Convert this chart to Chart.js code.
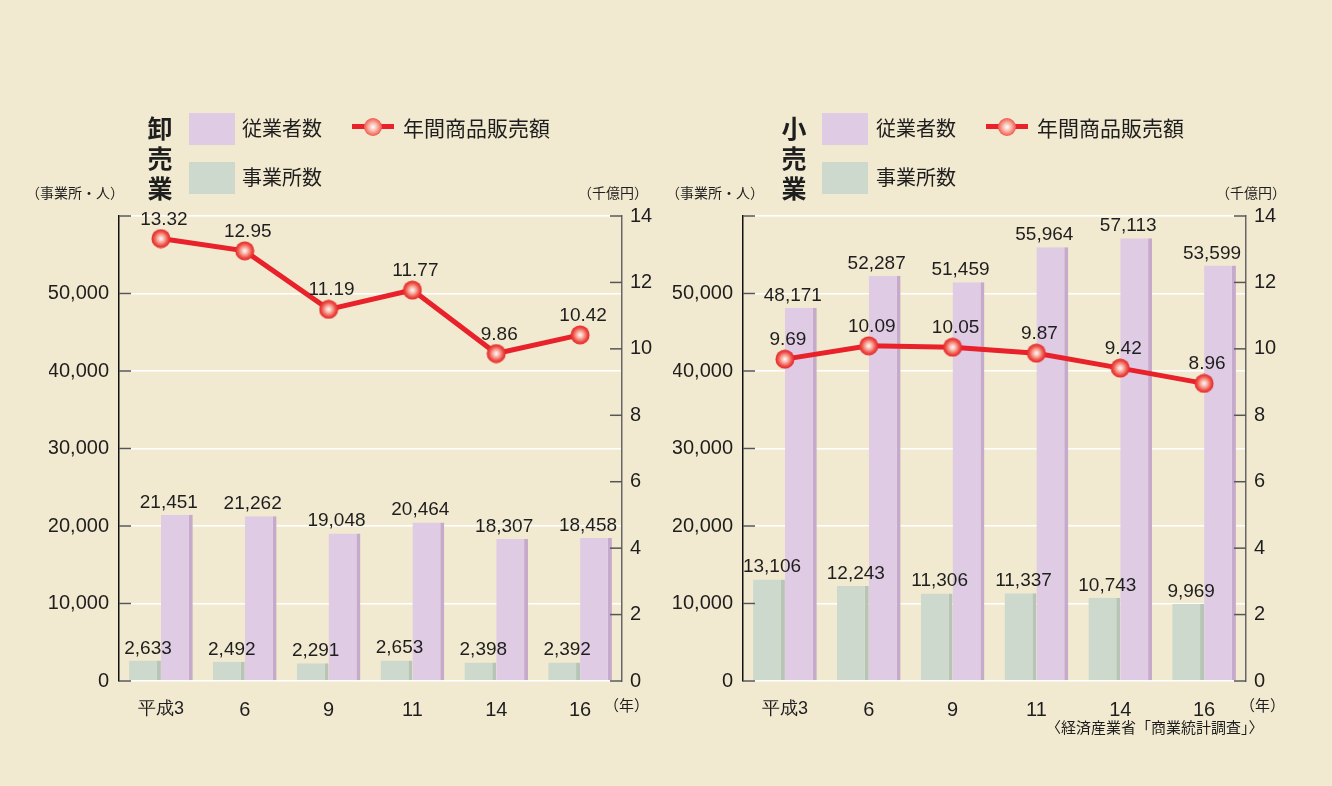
<!DOCTYPE html>
<html>
<head>
<meta charset="utf-8">
<script src="https://cdn.jsdelivr.net/npm/chart.js@4.4.1/dist/chart.umd.min.js"></script>
<style>
  body { margin: 0; background: #F2EAD0; }
  #wrap { position: relative; width: 1332px; height: 786px; overflow: hidden; background: #F2EAD0;
          font-family: "Noto Sans CJK JP", "Noto Sans", sans-serif; color: #1e1e1e; }
  canvas { position: absolute; top: 0; }
  .t { position: absolute; white-space: nowrap; line-height: 1; }
  .title { position: absolute; font-size: 25px; font-weight: bold; line-height: 30px; width: 26px; text-align: center; }
  .sq { position: absolute; width: 46px; height: 32px; }
  .mk { position: absolute; width: 42px; height: 18px; }
  .mk .ln { position: absolute; left: 0; top: 6px; width: 42px; height: 5px; background: #E8212B; }
  .mk .dot { position: absolute; left: 12px; top: 0; width: 18px; height: 18px; border-radius: 50%;
             background: radial-gradient(circle at 50% 50%, #fff 0%, #F8B2A4 35%, #EE4B43 75%, #E3262B 100%); }
</style>
</head>
<body>
<div id="wrap">
  <canvas id="wholesale" width="666" height="786" style="left:0"></canvas>
  <canvas id="retail" width="666" height="786" style="left:666px"></canvas>

  <!-- 卸売業 legend -->
  <div class="title" style="left:147px;top:112px">卸<br>売<br>業</div>
  <div class="sq" style="left:189px;top:113px;background:#DFCCE4"></div>
  <div class="t" style="left:242px;top:118px;font-size:20px">従業者数</div>
  <div class="mk" style="left:352px;top:118px"><div class="ln"></div><div class="dot"></div></div>
  <div class="t" style="left:403px;top:117px;font-size:21px">年間商品販売額</div>
  <div class="sq" style="left:189px;top:162px;background:#CED9CD"></div>
  <div class="t" style="left:242px;top:167px;font-size:20px">事業所数</div>
  <div class="t" style="left:26px;top:185px;font-size:14px">（事業所・人）</div>
  <div class="t" style="left:578px;top:185px;font-size:14px">（千億円）</div>
  <div class="t" style="left:604px;top:697px;font-size:15px">（年）</div>

  <!-- 小売業 legend -->
  <div class="title" style="left:781px;top:112px">小<br>売<br>業</div>
  <div class="sq" style="left:822px;top:113px;background:#DFCCE4"></div>
  <div class="t" style="left:876px;top:118px;font-size:20px">従業者数</div>
  <div class="mk" style="left:986px;top:118px"><div class="ln"></div><div class="dot"></div></div>
  <div class="t" style="left:1037px;top:117px;font-size:21px">年間商品販売額</div>
  <div class="sq" style="left:822px;top:162px;background:#CED9CD"></div>
  <div class="t" style="left:876px;top:167px;font-size:20px">事業所数</div>
  <div class="t" style="left:666px;top:185px;font-size:14px">（事業所・人）</div>
  <div class="t" style="left:1216px;top:185px;font-size:14px">（千億円）</div>
  <div class="t" style="left:1240px;top:697px;font-size:15px">（年）</div>
  <div class="t" style="left:1046px;top:719px;font-size:15px">〈経済産業省「商業統計調査」〉</div>
</div>

<script>
// data
const years = ["平成3", "6", "9", "11", "14", "16"];
const wholesaleEmployees = [21451, 21262, 19048, 20464, 18307, 18458];
const wholesaleOffices = [2633, 2492, 2291, 2653, 2398, 2392];
const wholesaleSales = [13.32, 12.95, 11.19, 11.77, 9.86, 10.42];
const retailEmployees = [48171, 52287, 51459, 55964, 57113, 53599];
const retailOffices = [13106, 12243, 11306, 11337, 10743, 9969];
const retailSales = [9.69, 10.09, 10.05, 9.87, 9.42, 8.96];

const NUM_FONT = '"Liberation Sans", Arial, sans-serif';

// shaded ball used for line points
const ball = document.createElement("canvas");
ball.width = 20;
ball.height = 20;
(function() {
    const c = ball.getContext("2d");
    const g = c.createRadialGradient(10, 10, 0, 10, 10, 9.5);
    g.addColorStop(0, "#ffffff");
    g.addColorStop(0.35, "#F8B2A4");
    g.addColorStop(0.75, "#EE4B43");
    g.addColorStop(1, "#E3262B");
    c.fillStyle = g;
    c.beginPath();
    c.arc(10, 10, 9.5, 0, Math.PI * 2);
    c.fill();
})();

// short tick marks drawn inside the plot, on both value axes
const innerTicks = {
    id: "innerTicks",
    afterDraw(chart) {
        const ctx = chart.ctx;
        const area = chart.chartArea;
        ctx.save();
        ctx.strokeStyle = "#555";
        ctx.lineWidth = 1.5;
        chart.scales.y.ticks.forEach(t => {
            const y = chart.scales.y.getPixelForValue(t.value);
            ctx.beginPath();
            ctx.moveTo(area.left, y);
            ctx.lineTo(area.left + 12, y);
            ctx.stroke();
        });
        chart.scales.y1.ticks.forEach(t => {
            const y = chart.scales.y1.getPixelForValue(t.value);
            ctx.beginPath();
            ctx.moveTo(area.right - 12, y);
            ctx.lineTo(area.right, y);
            ctx.stroke();
        });
        ctx.restore();
    }
};

// value labels over bars and points
const valueLabels = {
    id: "valueLabels",
    afterDatasetsDraw(chart) {
        const ctx = chart.ctx;
        ctx.save();
        ctx.font = "19px " + NUM_FONT;
        ctx.fillStyle = "#1e1e1e";
        ctx.textAlign = "center";
        ctx.textBaseline = "alphabetic";
        chart.data.datasets.forEach((ds, i) => {
            const meta = chart.getDatasetMeta(i);
            meta.data.forEach((el, j) => {
                const v = ds.data[j];
                if (meta.type === "line") {
                    ctx.fillText(v.toFixed(2), el.x + 3, el.y - 14);
                } else {
                    ctx.fillText(v.toLocaleString("en-US"), el.x + ds.labelShift, el.y - 7);
                }
            });
        });
        ctx.restore();
    }
};

function makeChart(id, offices, employees, sales, pad) {
    const tickFont = { size: 20, family: NUM_FONT };
    return new Chart(document.getElementById(id), {
        type: "bar",
        data: {
            labels: years,
            datasets: [
                {
                    type: "line", data: sales, yAxisID: "y1", order: 0,
                    borderColor: "#E8212B", borderWidth: 5, tension: 0,
                    pointStyle: ball, pointRadius: 10
                },
                {
                    data: offices, yAxisID: "y", order: 1, labelShift: 3,
                    backgroundColor: "#CED9CD", borderColor: "#B7C5B7",
                    borderWidth: { top: 0, right: 4, bottom: 0, left: 0 }, borderSkipped: false,
                    categoryPercentage: 0.76, barPercentage: 1
                },
                {
                    data: employees, yAxisID: "y", order: 1, labelShift: -8,
                    backgroundColor: "#DFCCE4", borderColor: "#C6AACB",
                    borderWidth: { top: 0, right: 4, bottom: 0, left: 0 }, borderSkipped: false,
                    categoryPercentage: 0.76, barPercentage: 1
                }
            ]
        },
        options: {
            responsive: false,
            animation: false,
            devicePixelRatio: 1,
            layout: { padding: pad },
            plugins: { legend: { display: false }, tooltip: { enabled: false } },
            scales: {
                x: {
                    grid: { display: false }, border: { display: false },
                    ticks: {
                        color: "#1e1e1e", padding: 9, maxRotation: 0,
                        font: c => ({ size: c.index === 0 ? 18 : 20, family: NUM_FONT })
                    },
                    afterFit(s) { s.height = 45; }
                },
                y: {
                    position: "left", min: 0, max: 60000,
                    ticks: {
                        stepSize: 10000, font: tickFont, color: "#1e1e1e", padding: 10,
                        callback: v => v === 60000 ? "" : v.toLocaleString("en-US")
                    },
                    grid: { color: "#ffffff", lineWidth: 1.5, drawTicks: false },
                    border: { color: "#111", width: 1.5 },
                    afterFit(s) { s.width = 70; }
                },
                y1: {
                    position: "right", min: 0, max: 14,
                    ticks: { stepSize: 2, font: tickFont, color: "#1e1e1e", padding: 8 },
                    grid: { drawOnChartArea: false, drawTicks: false },
                    border: { color: "#666", width: 1.5 },
                    afterFit(s) { s.width = 40; }
                }
            }
        },
        plugins: [innerTicks, valueLabels]
    });
}

makeChart("wholesale", wholesaleOffices, wholesaleEmployees, wholesaleSales,
    { left: 49, right: 4, top: 216, bottom: 60 });
makeChart("retail", retailOffices, retailEmployees, retailSales,
    { left: 7, right: 46, top: 216, bottom: 60 });
</script>
</body>
</html>
